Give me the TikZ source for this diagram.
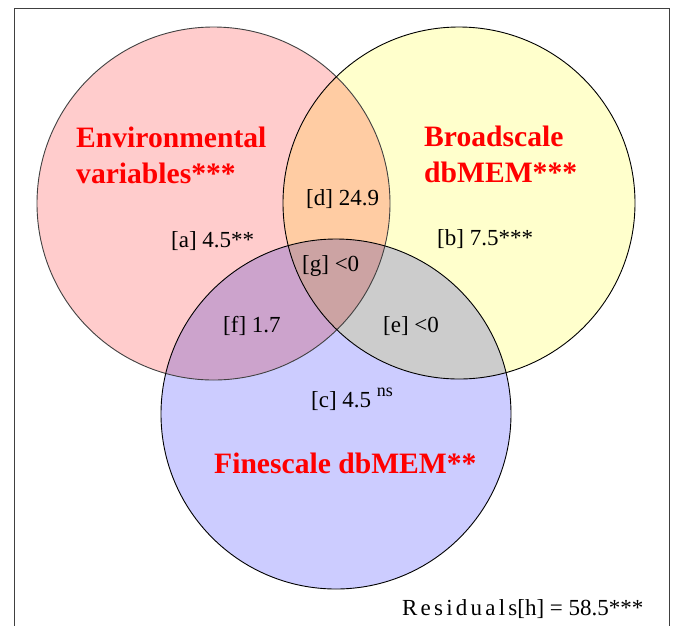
\documentclass[tikz,border=0pt]{standalone}
\usepackage{fontspec}
\setmainfont{Liberation Serif}
\newfontfamily\spacedfont[LetterSpace=14]{Liberation Serif}
\definecolor{envfill}{HTML}{FFCCCC}
\definecolor{broadfill}{HTML}{FFFFCC}
\definecolor{finefill}{HTML}{CCCCFF}
\begin{document}
\begin{tikzpicture}[x=1pt, y=-1pt,
    setlabel/.style={text=red, font=\bfseries\fontsize{29.6}{36}\selectfont, anchor=base west, inner sep=0pt},
    part/.style={font=\fontsize{23}{27}\selectfont, anchor=base west, inner sep=0pt}]
    \useasboundingbox (0,0) rectangle (673,625);
    \draw[black!75, line width=1pt] (14,626) -- (14,8) -- (669,8) -- (669,626);
    % the three sets
    \begin{scope}[blend mode=multiply]
        \fill[envfill] (213.5,203.5) circle[radius=176.5pt];
        \fill[broadfill] (459,203) circle[radius=176pt];
        \fill[finefill] (336,414) circle[radius=175pt];
    \end{scope}
    \draw[black!75, line width=0.9pt] (213.5,203.5) circle[radius=176.5pt];
    \draw[line width=0.9pt] (459,203) circle[radius=176pt];
    \draw[line width=0.9pt] (336,414) circle[radius=175pt];
    % set names
    \node[setlabel] (env1) at (76,147) {Environmental};
    \node[setlabel] (env2) at (76,183) {variables***};
    \node[setlabel] (broad1) at (424,146) {Broadscale};
    \node[setlabel] (broad2) at (424,182) {dbMEM***};
    \node[setlabel] (fine) at (214,473) {Finescale dbMEM**};
    % fractions
    \node[part] (a) at (171,247) {[a] 4.5**};
    \node[part] (b) at (437,245) {[b] 7.5***};
    \node[part] (c) at (311,407) {[c] 4.5 \raisebox{0.45em}{\fontsize{18}{20}\selectfont ns}};
    \node[part] (d) at (306,205) {[d] 24.9};
    \node[part] (e) at (383,332) {[e] <0};
    \node[part] (f) at (223,332) {[f] 1.7};
    \node[part] (g) at (302,271) {[g] <0};
    \node[part] (h) at (402,615) {{\spacedfont Residuals}[h] = 58.5***};
\end{tikzpicture}
\end{document}
